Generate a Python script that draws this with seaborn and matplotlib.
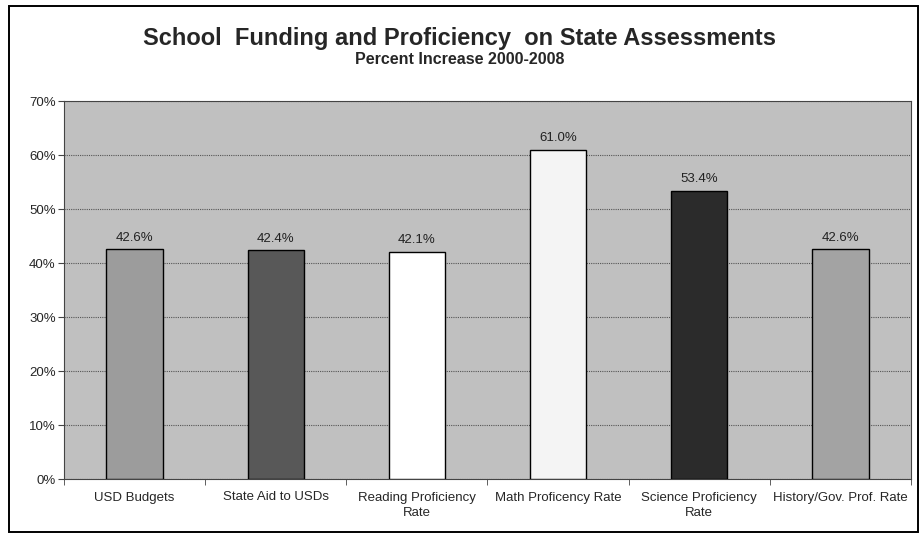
import matplotlib
matplotlib.use("Agg")
import matplotlib.pyplot as plt
import seaborn as sns
import pandas as pd
import numpy as np
from matplotlib.patches import Rectangle

categories = ["USD Budgets", "State Aid to USDs", "Reading Proficiency\nRate",
              "Math Proficency Rate", "Science Proficiency\nRate", "History/Gov. Prof. Rate"]
values = [42.6, 42.4, 42.1, 61.0, 53.4, 42.6]
bar_colors = ["#9c9c9c", "#585858", "#ffffff", "#f4f4f4", "#2b2b2b", "#a3a3a3"]
y_ticks = [0, 10, 20, 30, 40, 50, 60, 70]

sns.set_style("white")
plt.rcParams['font.family'] = ['Liberation Sans', 'DejaVu Sans']

df = pd.DataFrame({"cat": categories, "val": values})

fig = plt.figure(figsize=(9.19, 5.34), dpi=100)
L, R, T, B = 64, 911, 101, 479
ax = fig.add_axes([L/919, 1-B/534, (R-L)/919, (B-T)/534])
ax.set_facecolor("#c0c0c0")

sns.barplot(data=df, x="cat", y="val", hue="cat", palette=bar_colors, legend=False,
            width=0.4, edgecolor="black", linewidth=1.0, ax=ax, zorder=3)

ax.set_ylim(0, 70)
ax.set_yticks(y_ticks)
ax.set_yticklabels([f"{t}%" for t in y_ticks], fontsize=9.5)
ax.yaxis.grid(True, color="#555555", linestyle=(0, (1, 1)), linewidth=0.8, zorder=0)
ax.set_axisbelow(True)
ax.tick_params(axis="y", length=4, color="#444444", pad=2, left=True)
ax.set_xlim(-0.5, len(categories) - 0.5)
ax.set_xticks(np.arange(len(categories) + 1) - 0.5, minor=True)
ax.tick_params(axis="x", which="major", length=0, labelsize=9.5, pad=9)
ax.tick_params(axis="x", which="minor", length=4, color="#444444", bottom=True)
for lab in ax.get_xticklabels():
    lab.set_linespacing(1.35)
ax.set_xlabel("")
ax.set_ylabel("")
for s in ax.spines.values():
    s.set_color("#444444")
    s.set_linewidth(0.8)

for i, v in enumerate(values):
    ax.text(i, v + 1.0, f"{v:.1f}%", ha="center", va="bottom", fontsize=9.5, color="#222222")

fig.text(0.5, 1-38/534, "School  Funding and Proficiency  on State Assessments",
         ha="center", va="center", fontsize=17, fontweight="bold")
fig.text(0.5, 1-59/534, "Percent Increase 2000-2008", ha="center", va="center",
         fontsize=11.5, fontweight="bold")

fig.patches.append(Rectangle((9/919, 1-532/534), (918-9)/919, (532-6)/534,
                             transform=fig.transFigure, fill=False,
                             edgecolor="black", linewidth=1.4))

fig.savefig("out.png", dpi=100)
